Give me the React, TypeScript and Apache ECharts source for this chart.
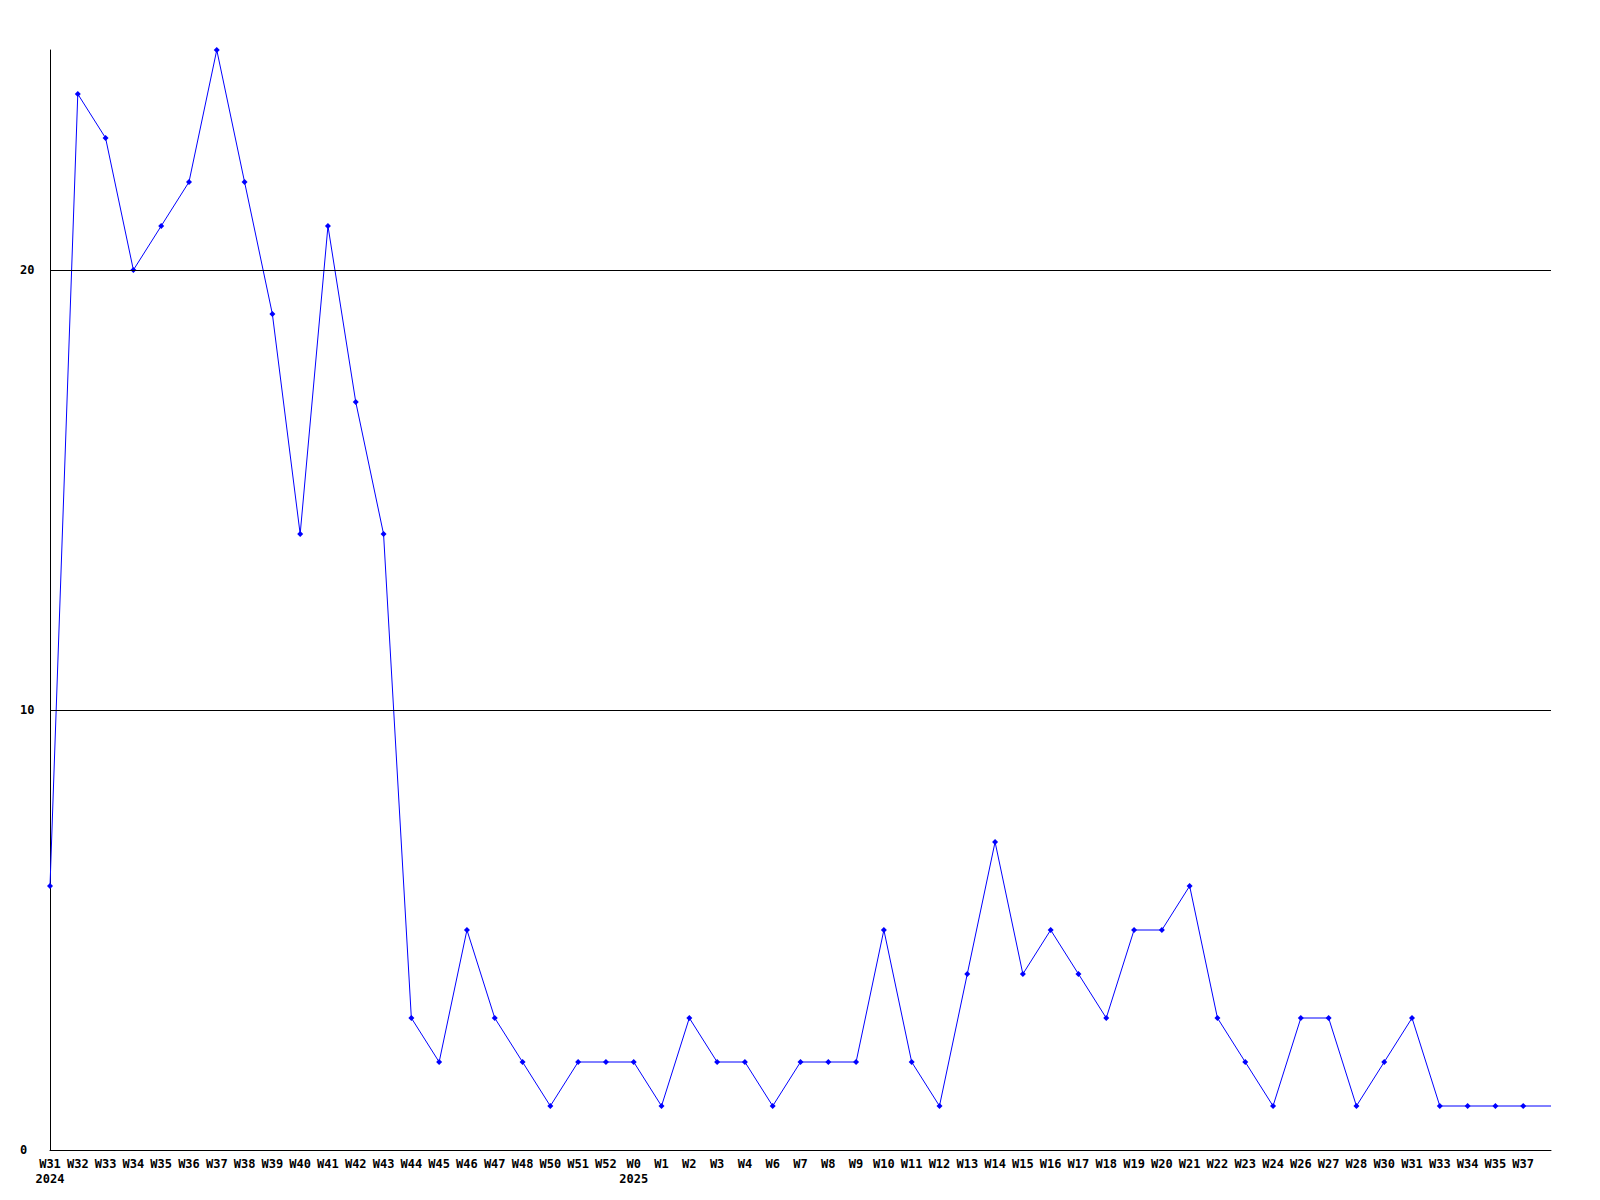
import React, { useEffect, useRef } from "react";
import * as echarts from "echarts";

const weeks = [
  "W31\n2024", "W32", "W33", "W34", "W35", "W36", "W37", "W38", "W39", "W40",
  "W41", "W42", "W43", "W44", "W45", "W46", "W47", "W48", "W50", "W51",
  "W52", "W0\n2025", "W1", "W2", "W3", "W4", "W6", "W7", "W8", "W9",
  "W10", "W11", "W12", "W13", "W14", "W15", "W16", "W17", "W18", "W19",
  "W20", "W21", "W22", "W23", "W24", "W26", "W27", "W28", "W30", "W31",
  "W33", "W34", "W35", "W37", "",
];

const counts = [
  6, 24, 23, 20, 21, 22, 25, 22, 19, 14,
  21, 17, 14, 3, 2, 5, 3, 2, 1, 2,
  2, 2, 1, 3, 2, 2, 1, 2, 2, 2,
  5, 2, 1, 4, 7, 4, 5, 4, 3, 5,
  5, 6, 3, 2, 1, 3, 3, 1, 2, 3,
  1, 1, 1, 1, 1,
];

const gridValues = [10, 20];
const yMax = 25;

const FONT = "DejaVu Sans Mono";

export default function App() {
  const ref = useRef<HTMLDivElement>(null);
  useEffect(() => {
    if (!ref.current) return;
    const chart = echarts.init(ref.current, undefined, { renderer: "svg" });
    const seriesData = counts.map((v, i) =>
      weeks[i] === "" ? { value: v, symbol: "none" } : v
    );
    chart.setOption({
      animation: false,
      backgroundColor: "#ffffff",
      grid: { left: 50, top: 50, right: 49, bottom: 50, containLabel: false },
      xAxis: {
        type: "category",
        data: weeks,
        boundaryGap: false,
        axisLine: { show: true, lineStyle: { color: "#000", width: 1 } },
        axisTick: { show: false },
        splitLine: { show: false },
        axisLabel: {
          interval: 0,
          margin: 6,
          color: "#000",
          fontFamily: FONT,
          fontWeight: "bold",
          fontSize: 12,
          lineHeight: 15,
          align: "center",
        },
      },
      yAxis: {
        type: "value",
        min: 0,
        max: yMax,
        interval: 10,
        axisLine: { show: true, lineStyle: { color: "#000", width: 1 } },
        axisTick: { show: false },
        splitLine: { show: false },
        axisLabel: {
          margin: 30,
          align: "left",
          color: "#000",
          fontFamily: FONT,
          fontWeight: "bold",
          fontSize: 12,
          showMaxLabel: false,
          formatter: (v: number) => (v === yMax ? "" : String(v)),
        },
      },
      series: [
        {
          type: "line",
          data: seriesData,
          symbol: "diamond",
          symbolSize: 6,
          lineStyle: { color: "#0000ff", width: 1 },
          itemStyle: { color: "#0000ff" },
          markLine: {
            silent: true,
            symbol: "none",
            label: { show: false },
            lineStyle: { color: "#000", width: 1, type: "solid" },
            data: gridValues.map((g) => ({ yAxis: g })),
          },
          z: 3,
        },
      ],
    });
    return () => chart.dispose();
  }, []);
  return (
    <div
      ref={ref}
      style={{ position: "fixed", left: 0, top: 0, width: 1600, height: 1200 }}
    />
  );
}
